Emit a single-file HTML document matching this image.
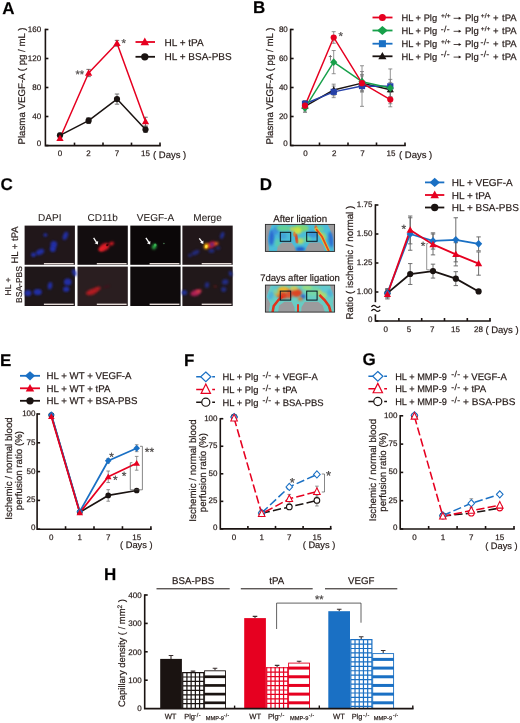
<!DOCTYPE html>
<html><head><meta charset="utf-8"><title>Figure</title>
<style>
html,body{margin:0;padding:0;background:#fff;}
body{width:520px;height:723px;overflow:hidden;font-family:"Liberation Sans",sans-serif;}
svg{display:block;filter:blur(0.4px);font-family:"Liberation Sans",sans-serif;}
svg text{stroke:#231815;stroke-width:0.25px;stroke-opacity:0.75;}
</style></head><body>
<svg width="520" height="723" viewBox="0 0 520 723" text-rendering="geometricPrecision">
<rect width="520" height="723" fill="#fff"/>
<text x="2.2" y="13.8" font-size="17" text-anchor="start" font-weight="bold" fill="#000" >A</text>
<text x="253" y="12.7" font-size="17" text-anchor="start" font-weight="bold" fill="#000" >B</text>
<text x="0.6" y="189.9" font-size="17" text-anchor="start" font-weight="bold" fill="#000" >C</text>
<text x="259.8" y="189.8" font-size="17" text-anchor="start" font-weight="bold" fill="#000" >D</text>
<text x="0" y="365.8" font-size="17" text-anchor="start" font-weight="bold" fill="#000" >E</text>
<text x="184" y="365.5" font-size="17" text-anchor="start" font-weight="bold" fill="#000" >F</text>
<text x="362.5" y="364.7" font-size="17" text-anchor="start" font-weight="bold" fill="#000" >G</text>
<text x="104" y="580.1" font-size="17" text-anchor="start" font-weight="bold" fill="#000" >H</text>
<path d="M45.4,29.5V145.6H160" stroke="#1a1311" stroke-width="1.6" fill="none" stroke-linecap="square"/>
<path d="M45.4,29.5h3" stroke="#1a1311" stroke-width="1.6"/>
<path d="M45.4,58.5h3" stroke="#1a1311" stroke-width="1.6"/>
<path d="M45.4,87.5h3" stroke="#1a1311" stroke-width="1.6"/>
<path d="M45.4,116.5h3" stroke="#1a1311" stroke-width="1.6"/>
<path d="M45.4,145.5h3" stroke="#1a1311" stroke-width="1.6"/>
<path d="M74.5,145.6v-3" stroke="#1a1311" stroke-width="1.6"/>
<path d="M103,145.6v-3" stroke="#1a1311" stroke-width="1.6"/>
<path d="M131.5,145.6v-3" stroke="#1a1311" stroke-width="1.6"/>
<path d="M160,145.6v-3" stroke="#1a1311" stroke-width="1.6"/>
<text x="41.1" y="31.580000000000002" font-size="8.0" text-anchor="end" font-weight="normal" fill="#231815" >160</text>
<text x="41.1" y="60.580000000000005" font-size="8.0" text-anchor="end" font-weight="normal" fill="#231815" >120</text>
<text x="41.1" y="89.58" font-size="8.0" text-anchor="end" font-weight="normal" fill="#231815" >80</text>
<text x="41.1" y="118.58" font-size="8.0" text-anchor="end" font-weight="normal" fill="#231815" >40</text>
<text x="41.1" y="146.38" font-size="8.0" text-anchor="end" font-weight="normal" fill="#231815" >0</text>
<text x="60.0" y="156" font-size="8.0" text-anchor="middle" font-weight="normal" fill="#231815" >0</text>
<text x="88.6" y="156" font-size="8.0" text-anchor="middle" font-weight="normal" fill="#231815" >2</text>
<text x="117.0" y="156" font-size="8.0" text-anchor="middle" font-weight="normal" fill="#231815" >7</text>
<text x="145.5" y="156" font-size="8.0" text-anchor="middle" font-weight="normal" fill="#231815" >15</text>
<text x="153" y="157.5" font-size="9.5" text-anchor="start" font-weight="normal" fill="#231815" >( Days )</text>
<text x="24.6" y="86" font-size="9.7" text-anchor="middle" font-weight="normal" fill="#231815" transform="rotate(-90 24.6 86)" >Plasma VEGF-A ( pg / mL )</text>
<path d="M60.0,133.175V137.525M57.8,133.175H62.2M57.8,137.525H62.2" stroke="#606060" stroke-width="0.9" fill="none"/>
<path d="M88.6,117.7325V123.5325M86.39999999999999,117.7325H90.8M86.39999999999999,123.5325H90.8" stroke="#606060" stroke-width="0.9" fill="none"/>
<path d="M117.0,94.025V104.17500000000001M114.8,94.025H119.2M114.8,104.17500000000001H119.2" stroke="#606060" stroke-width="0.9" fill="none"/>
<path d="M145.5,126.65V132.45M143.3,126.65H147.7M143.3,132.45H147.7" stroke="#606060" stroke-width="0.9" fill="none"/>
<path d="M60.0,136.075V140.425M57.8,136.075H62.2M57.8,140.425H62.2" stroke="#606060" stroke-width="0.9" fill="none"/>
<path d="M88.6,69.375V76.625M86.39999999999999,69.375H90.8M86.39999999999999,76.625H90.8" stroke="#606060" stroke-width="0.9" fill="none"/>
<path d="M117.0,40.375V46.175M114.8,40.375H119.2M114.8,46.175H119.2" stroke="#606060" stroke-width="0.9" fill="none"/>
<path d="M145.5,117.225V125.925M143.3,117.225H147.7M143.3,125.925H147.7" stroke="#606060" stroke-width="0.9" fill="none"/>
<polyline points="60.0,135.35 88.6,120.63250000000001 117.0,99.1 145.5,129.55" fill="none" stroke="#1a1311" stroke-width="1.5" stroke-linejoin="round"/>
<polyline points="60.0,138.25 88.6,73.0 117.0,43.275000000000006 145.5,121.575" fill="none" stroke="#e60020" stroke-width="1.5" stroke-linejoin="round"/>
<circle cx="60.0" cy="135.35" r="3.10" fill="#1a1311"/>
<circle cx="88.6" cy="120.63250000000001" r="3.10" fill="#1a1311"/>
<circle cx="117.0" cy="99.1" r="3.10" fill="#1a1311"/>
<circle cx="145.5" cy="129.55" r="3.10" fill="#1a1311"/>
<polygon points="60.0,134.48 63.66,140.98 56.34,140.98" fill="#e60020"/>
<polygon points="88.6,69.23 92.26,75.73 84.94,75.73" fill="#e60020"/>
<polygon points="117.0,39.50 120.66,46.01 113.34,46.01" fill="#e60020"/>
<polygon points="145.5,117.80 149.16,124.31 141.84,124.31" fill="#e60020"/>
<text x="75.5" y="77.5" font-size="11" text-anchor="start" font-weight="normal" fill="#666" >**</text>
<text x="121.6" y="46.5" font-size="11.5" text-anchor="start" font-weight="normal" fill="#666" >*</text>
<path d="M135.5,42H155" stroke="#e60020" stroke-width="1.8"/>
<polygon points="144.8,37.61 149.06,45.18 140.54,45.18" fill="#e60020"/>
<text x="164.5" y="45.5" font-size="10" text-anchor="start" font-weight="normal" fill="#231815" >HL + tPA</text>
<path d="M135.5,56.8H155" stroke="#1a1311" stroke-width="1.8"/>
<circle cx="144.8" cy="56.8" r="3.67" fill="#1a1311"/>
<text x="164.5" y="60.3" font-size="10" text-anchor="start" font-weight="normal" fill="#231815" >HL + BSA-PBS</text>
<path d="M290.6,29.5V145.5H405" stroke="#1a1311" stroke-width="1.6" fill="none" stroke-linecap="square"/>
<path d="M290.6,29.5h3" stroke="#1a1311" stroke-width="1.6"/>
<path d="M290.6,58.5h3" stroke="#1a1311" stroke-width="1.6"/>
<path d="M290.6,87.5h3" stroke="#1a1311" stroke-width="1.6"/>
<path d="M290.6,116.5h3" stroke="#1a1311" stroke-width="1.6"/>
<path d="M290.6,145.5h3" stroke="#1a1311" stroke-width="1.6"/>
<path d="M319.5,145.5v-3" stroke="#1a1311" stroke-width="1.6"/>
<path d="M348,145.5v-3" stroke="#1a1311" stroke-width="1.6"/>
<path d="M376.5,145.5v-3" stroke="#1a1311" stroke-width="1.6"/>
<path d="M405,145.5v-3" stroke="#1a1311" stroke-width="1.6"/>
<text x="287.8" y="31.580000000000002" font-size="8.0" text-anchor="end" font-weight="normal" fill="#231815" >80</text>
<text x="287.8" y="60.580000000000005" font-size="8.0" text-anchor="end" font-weight="normal" fill="#231815" >60</text>
<text x="287.8" y="89.58" font-size="8.0" text-anchor="end" font-weight="normal" fill="#231815" >40</text>
<text x="287.8" y="118.58" font-size="8.0" text-anchor="end" font-weight="normal" fill="#231815" >20</text>
<text x="287.8" y="146.38" font-size="8.0" text-anchor="end" font-weight="normal" fill="#231815" >0</text>
<text x="305.6" y="156" font-size="8.0" text-anchor="middle" font-weight="normal" fill="#231815" >0</text>
<text x="334.3" y="156" font-size="8.0" text-anchor="middle" font-weight="normal" fill="#231815" >2</text>
<text x="362.6" y="156" font-size="8.0" text-anchor="middle" font-weight="normal" fill="#231815" >7</text>
<text x="390.90000000000003" y="156" font-size="8.0" text-anchor="middle" font-weight="normal" fill="#231815" >15</text>
<text x="399" y="157.5" font-size="9.5" text-anchor="start" font-weight="normal" fill="#231815" >( Days )</text>
<text x="272.6" y="86" font-size="9.7" text-anchor="middle" font-weight="normal" fill="#231815" transform="rotate(-90 272.6 86)" >Plasma VEGF-A ( pg / mL )</text>
<path d="M305.0,101.275V109.975M303.0,101.275H307.0M303.0,109.975H307.0" stroke="#777" stroke-width="0.8" fill="none"/>
<path d="M333.7,31.674999999999997V43.275000000000006M331.7,31.674999999999997H335.7M331.7,43.275000000000006H335.7" stroke="#777" stroke-width="0.8" fill="none"/>
<path d="M362.0,75.9V90.4M360.0,75.9H364.0M360.0,90.4H364.0" stroke="#777" stroke-width="0.8" fill="none"/>
<path d="M390.3,92.285V106.785M388.3,92.285H392.3M388.3,106.785H392.3" stroke="#777" stroke-width="0.8" fill="none"/>
<path d="M305.0,103.45V112.15M303.0,103.45H307.0M303.0,112.15H307.0" stroke="#777" stroke-width="0.8" fill="none"/>
<path d="M333.7,50.525000000000006V73.72500000000001M331.7,50.525000000000006H335.7M331.7,73.72500000000001H335.7" stroke="#777" stroke-width="0.8" fill="none"/>
<path d="M362.0,71.55V91.85M360.0,71.55H364.0M360.0,91.85H364.0" stroke="#777" stroke-width="0.8" fill="none"/>
<path d="M390.3,79.38V96.78M388.3,79.38H392.3M388.3,96.78H392.3" stroke="#777" stroke-width="0.8" fill="none"/>
<path d="M305.0,100.84V106.64M303.0,100.84H307.0M303.0,106.64H307.0" stroke="#777" stroke-width="0.8" fill="none"/>
<path d="M333.7,86.05000000000001V97.65M331.7,86.05000000000001H335.7M331.7,97.65H335.7" stroke="#777" stroke-width="0.8" fill="none"/>
<path d="M362.0,65.75V106.35M360.0,65.75H364.0M360.0,106.35H364.0" stroke="#777" stroke-width="0.8" fill="none"/>
<path d="M390.3,68.94000000000001V103.74000000000001M388.3,68.94000000000001H392.3M388.3,103.74000000000001H392.3" stroke="#777" stroke-width="0.8" fill="none"/>
<path d="M305.0,100.55000000000001V112.15M303.0,100.55000000000001H307.0M303.0,112.15H307.0" stroke="#777" stroke-width="0.8" fill="none"/>
<path d="M333.7,84.165V95.76500000000001M331.7,84.165H335.7M331.7,95.76500000000001H335.7" stroke="#777" stroke-width="0.8" fill="none"/>
<path d="M362.0,74.45V91.85M360.0,74.45H364.0M360.0,91.85H364.0" stroke="#777" stroke-width="0.8" fill="none"/>
<path d="M390.3,82.42500000000001V96.92500000000001M388.3,82.42500000000001H392.3M388.3,96.92500000000001H392.3" stroke="#777" stroke-width="0.8" fill="none"/>
<polyline points="305.0,106.35 333.7,89.965 362.0,83.15 390.3,89.67500000000001" fill="none" stroke="#1a1311" stroke-width="1.45" stroke-linejoin="round"/>
<polyline points="305.0,103.74000000000001 333.7,91.85 362.0,86.05000000000001 390.3,86.34" fill="none" stroke="#2540a8" stroke-width="1.45" stroke-linejoin="round"/>
<polyline points="305.0,107.80000000000001 333.7,62.125 362.0,81.7 390.3,88.08" fill="none" stroke="#17a04a" stroke-width="1.45" stroke-linejoin="round"/>
<polyline points="305.0,105.625 333.7,37.47500000000001 362.0,83.15 390.3,99.535" fill="none" stroke="#e60020" stroke-width="1.45" stroke-linejoin="round"/>
<polygon points="305.0,102.64 308.60,109.04 301.40,109.04" fill="#1a1311"/>
<polygon points="333.7,86.25 337.30,92.65 330.10,92.65" fill="#1a1311"/>
<polygon points="362.0,79.44 365.60,85.84 358.40,85.84" fill="#1a1311"/>
<polygon points="390.3,85.96 393.90,92.36 386.70,92.36" fill="#1a1311"/>
<rect x="301.90" y="100.64" width="6.20" height="6.20" fill="#2540a8"/>
<rect x="330.60" y="88.75" width="6.20" height="6.20" fill="#2540a8"/>
<rect x="358.90" y="82.95" width="6.20" height="6.20" fill="#2540a8"/>
<rect x="387.20" y="83.24" width="6.20" height="6.20" fill="#2540a8"/>
<polygon points="305.0,103.90 308.60,107.80000000000001 305.0,111.70 301.40,107.80000000000001" fill="#17a04a"/>
<polygon points="333.7,58.23 337.30,62.125 333.7,66.03 330.10,62.125" fill="#17a04a"/>
<polygon points="362.0,77.80 365.60,81.7 362.0,85.60 358.40,81.7" fill="#17a04a"/>
<polygon points="390.3,84.18 393.90,88.08 390.3,91.98 386.70,88.08" fill="#17a04a"/>
<circle cx="305.0" cy="105.625" r="3.10" fill="#e60020"/>
<circle cx="333.7" cy="37.47500000000001" r="3.10" fill="#e60020"/>
<circle cx="362.0" cy="83.15" r="3.10" fill="#e60020"/>
<circle cx="390.3" cy="99.535" r="3.10" fill="#e60020"/>
<text x="338.5" y="39.5" font-size="11.5" text-anchor="start" font-weight="normal" fill="#666" >*</text>
<text x="328.5" y="60" font-size="6.5" text-anchor="start" font-weight="normal" fill="#666" >†</text>
<path d="M372.5,17.5H392.5" stroke="#e60020" stroke-width="1.8"/>
<circle cx="382.4" cy="17.5" r="3.51" fill="#e60020"/>
<text x="401.5" y="20.9" font-size="9.3" text-anchor="start" font-weight="normal" fill="#231815" >HL + Plg</text>
<text x="441.1" y="18.099999999999998" font-size="6.6" text-anchor="start" font-weight="normal" fill="#231815" >+/+</text>
<path d="M453.6,18.299999999999997H460.2" stroke="#231815" stroke-width="0.8"/><path d="M461.3,18.299999999999997l-2.6,-1.5v3z" fill="#231815"/>
<text x="465" y="20.9" font-size="9.5" text-anchor="start" font-weight="normal" fill="#231815" >Plg</text>
<text x="480.8" y="18.099999999999998" font-size="6.6" text-anchor="start" font-weight="normal" fill="#231815" >+/+</text>
<text x="493" y="20.9" font-size="9.5" text-anchor="start" font-weight="normal" fill="#231815" word-spacing="0.8">+ tPA</text>
<path d="M372.5,30.5H392.5" stroke="#17a04a" stroke-width="1.8"/>
<polygon points="382.4,26.08 387.70,30.5 382.4,34.92 377.10,30.5" fill="#17a04a"/>
<text x="401.5" y="33.9" font-size="9.3" text-anchor="start" font-weight="normal" fill="#231815" >HL + Plg</text>
<text x="440.8" y="31.5" font-size="8.6" text-anchor="start" font-weight="normal" fill="#231815" letter-spacing="0.3">-/-</text>
<path d="M453.6,31.299999999999997H460.2" stroke="#231815" stroke-width="0.8"/><path d="M461.3,31.299999999999997l-2.6,-1.5v3z" fill="#231815"/>
<text x="465" y="33.9" font-size="9.5" text-anchor="start" font-weight="normal" fill="#231815" >Plg</text>
<text x="480.8" y="31.099999999999998" font-size="6.6" text-anchor="start" font-weight="normal" fill="#231815" >+/+</text>
<text x="493" y="33.9" font-size="9.5" text-anchor="start" font-weight="normal" fill="#231815" word-spacing="0.8">+ tPA</text>
<path d="M372.5,43.7H392.5" stroke="#1a70c4" stroke-width="1.8"/>
<rect x="378.89" y="40.19" width="7.03" height="7.03" fill="#1a70c4"/>
<text x="401.5" y="47.1" font-size="9.3" text-anchor="start" font-weight="normal" fill="#231815" >HL + Plg</text>
<text x="441.1" y="44.300000000000004" font-size="6.6" text-anchor="start" font-weight="normal" fill="#231815" >+/+</text>
<path d="M453.6,44.5H460.2" stroke="#231815" stroke-width="0.8"/><path d="M461.3,44.5l-2.6,-1.5v3z" fill="#231815"/>
<text x="465" y="47.1" font-size="9.5" text-anchor="start" font-weight="normal" fill="#231815" >Plg</text>
<text x="480.5" y="44.7" font-size="8.6" text-anchor="start" font-weight="normal" fill="#231815" letter-spacing="0.3">-/-</text>
<text x="493" y="47.1" font-size="9.5" text-anchor="start" font-weight="normal" fill="#231815" word-spacing="0.8">+ tPA</text>
<path d="M372.5,56.3H392.5" stroke="#1a1311" stroke-width="1.8"/>
<polygon points="382.4,52.09 386.48,59.35 378.32,59.35" fill="#1a1311"/>
<text x="401.5" y="59.699999999999996" font-size="9.3" text-anchor="start" font-weight="normal" fill="#231815" >HL + Plg</text>
<text x="440.8" y="57.3" font-size="8.6" text-anchor="start" font-weight="normal" fill="#231815" letter-spacing="0.3">-/-</text>
<path d="M453.6,57.099999999999994H460.2" stroke="#231815" stroke-width="0.8"/><path d="M461.3,57.099999999999994l-2.6,-1.5v3z" fill="#231815"/>
<text x="465" y="59.699999999999996" font-size="9.5" text-anchor="start" font-weight="normal" fill="#231815" >Plg</text>
<text x="480.5" y="57.3" font-size="8.6" text-anchor="start" font-weight="normal" fill="#231815" letter-spacing="0.3">-/-</text>
<text x="493" y="59.699999999999996" font-size="9.5" text-anchor="start" font-weight="normal" fill="#231815" word-spacing="0.8">+ tPA</text>
<defs>
<filter id="b1" x="-50%" y="-50%" width="200%" height="200%"><feGaussianBlur stdDeviation="0.9"/></filter>
<filter id="b2" x="-50%" y="-50%" width="200%" height="200%"><feGaussianBlur stdDeviation="1.6"/></filter>
<filter id="b05" x="-50%" y="-50%" width="200%" height="200%"><feGaussianBlur stdDeviation="0.5"/></filter>
</defs>
<rect x="24.6" y="225.6" width="50.3" height="39.2" fill="#21171a"/>
<rect x="77.5" y="225.6" width="50.3" height="39.2" fill="#130d0f"/>
<rect x="130.3" y="225.6" width="50.3" height="39.2" fill="#0b0708"/>
<rect x="182.4" y="225.6" width="50.3" height="39.2" fill="#21171a"/>
<rect x="24.6" y="266.6" width="50.3" height="39.4" fill="#1f1719"/>
<rect x="77.5" y="266.6" width="50.3" height="39.4" fill="#2a1e20"/>
<rect x="130.3" y="266.6" width="50.3" height="39.4" fill="#0f0b0c"/>
<rect x="182.4" y="266.6" width="50.3" height="39.4" fill="#21181a"/>
<ellipse cx="45.4" cy="235" rx="2" ry="1.8" fill="#2430b4" opacity="0.9" transform="rotate(0 45.4 235)" filter="url(#b1)"/>
<ellipse cx="65.4" cy="235.8" rx="2.3" ry="4.4" fill="#2430b4" opacity="0.9" transform="rotate(22 65.4 235.8)" filter="url(#b1)"/>
<ellipse cx="53.8" cy="244.5" rx="3.3" ry="3.6" fill="#2430b4" opacity="0.9" transform="rotate(10 53.8 244.5)" filter="url(#b1)"/>
<ellipse cx="52.8" cy="249" rx="3" ry="3" fill="#2430b4" opacity="0.9" transform="rotate(0 52.8 249)" filter="url(#b1)"/>
<ellipse cx="40" cy="252" rx="4.4" ry="2.8" fill="#2430b4" opacity="0.9" transform="rotate(-25 40 252)" filter="url(#b1)"/>
<ellipse cx="33.5" cy="254.8" rx="2.5" ry="2.2" fill="#2430b4" opacity="0.9" transform="rotate(0 33.5 254.8)" filter="url(#b1)"/>
<ellipse cx="74.4" cy="272.7" rx="2" ry="3.6" fill="#2430b4" opacity="0.9" transform="rotate(-20 74.4 272.7)" filter="url(#b1)"/>
<ellipse cx="67.7" cy="282" rx="3.8" ry="3.5" fill="#2430b4" opacity="0.9" transform="rotate(0 67.7 282)" filter="url(#b1)"/>
<ellipse cx="66.2" cy="289.2" rx="3.1" ry="2.6" fill="#2430b4" opacity="0.9" transform="rotate(0 66.2 289.2)" filter="url(#b1)"/>
<ellipse cx="50" cy="285.8" rx="2.2" ry="3.8" fill="#2430b4" opacity="0.9" transform="rotate(10 50 285.8)" filter="url(#b1)"/>
<ellipse cx="37.7" cy="292" rx="4.2" ry="3.1" fill="#2430b4" opacity="0.9" transform="rotate(0 37.7 292)" filter="url(#b1)"/>
<ellipse cx="28" cy="293" rx="3.5" ry="3.1" fill="#2430b4" opacity="0.9" transform="rotate(0 28 293)" filter="url(#b1)"/>
<ellipse cx="104.5" cy="247" rx="5.2" ry="3.4" fill="#de1c26" opacity="1" transform="rotate(-28 104.5 247)" filter="url(#b1)"/>
<ellipse cx="111.5" cy="243.6" rx="2.6" ry="1.9" fill="#cc1822" opacity="1" transform="rotate(-20 111.5 243.6)" filter="url(#b1)"/>
<ellipse cx="101" cy="249.5" rx="2.6" ry="2" fill="#e82028" opacity="1" transform="rotate(0 101 249.5)" filter="url(#b1)"/>
<ellipse cx="107.3" cy="245" rx="1.5" ry="1.1" fill="#2a0606" transform="rotate(-40 107.3 245)" filter="url(#b05)"/>
<ellipse cx="92" cy="291.8" rx="6.4" ry="2.9" fill="#b81c24" opacity="0.95" transform="rotate(-20 92 291.8)" filter="url(#b1)"/>
<ellipse cx="97.5" cy="288.8" rx="3.4" ry="2" fill="#b01a22" opacity="0.9" transform="rotate(-20 97.5 288.8)" filter="url(#b1)"/>
<ellipse cx="106.5" cy="286.6" rx="3.5" ry="0.9" fill="#601014" opacity="0.6" transform="rotate(-15 106.5 286.6)" filter="url(#b1)"/>
<ellipse cx="154.2" cy="246.6" rx="2.1" ry="2.9" fill="#2aa846" opacity="1" transform="rotate(25 154.2 246.6)" filter="url(#b1)"/>
<ellipse cx="155.2" cy="245" rx="1.3" ry="1.5" fill="#38b050" opacity="1" transform="rotate(0 155.2 245)" filter="url(#b05)"/>
<ellipse cx="163.9" cy="243.5" rx="0.8" ry="0.8" fill="#4a7a54" opacity="1" transform="rotate(0 163.9 243.5)" filter="url(#b05)"/>
<ellipse cx="222.2" cy="235.4" rx="1.8" ry="3.6" fill="#2230a0" opacity="0.9" transform="rotate(20 222.2 235.4)" filter="url(#b1)"/>
<ellipse cx="211.5" cy="250.7" rx="3" ry="2.2" fill="#2230a0" opacity="0.7" transform="rotate(0 211.5 250.7)" filter="url(#b1)"/>
<ellipse cx="195.5" cy="252.6" rx="4.2" ry="2.2" fill="#2230a0" opacity="0.75" transform="rotate(-25 195.5 252.6)" filter="url(#b1)"/>
<ellipse cx="190" cy="255.4" rx="2" ry="1.8" fill="#2230a0" opacity="0.6" transform="rotate(0 190 255.4)" filter="url(#b1)"/>
<ellipse cx="218" cy="248" rx="2.5" ry="2" fill="#2230a0" opacity="0.5" transform="rotate(0 218 248)" filter="url(#b1)"/>
<ellipse cx="211.5" cy="244.8" rx="4.6" ry="3" fill="#c81838" opacity="1" transform="rotate(-25 211.5 244.8)" filter="url(#b1)"/>
<ellipse cx="216.2" cy="243.6" rx="2.4" ry="1.6" fill="#e86020" opacity="1" transform="rotate(-15 216.2 243.6)" filter="url(#b1)"/>
<ellipse cx="212" cy="244.6" rx="1.6" ry="1.8" fill="#3030a0" opacity="0.8" transform="rotate(0 212 244.6)" filter="url(#b1)"/>
<ellipse cx="206.3" cy="246.2" rx="2.3" ry="3" fill="#ffa800" opacity="1" transform="rotate(15 206.3 246.2)" filter="url(#b1)"/>
<ellipse cx="206.3" cy="246.6" rx="1.3" ry="1.8" fill="#ffe040" opacity="1" transform="rotate(15 206.3 246.6)" filter="url(#b05)"/>
<ellipse cx="230.5" cy="273.5" rx="1.7" ry="2.8" fill="#2230a0" opacity="0.85" transform="rotate(-15 230.5 273.5)" filter="url(#b1)"/>
<ellipse cx="225.2" cy="281.9" rx="3.3" ry="2.6" fill="#2230a0" opacity="0.8" transform="rotate(-15 225.2 281.9)" filter="url(#b1)"/>
<ellipse cx="223.7" cy="289.5" rx="2.6" ry="2.4" fill="#2230a0" opacity="0.75" transform="rotate(0 223.7 289.5)" filter="url(#b1)"/>
<ellipse cx="207" cy="285" rx="2.2" ry="3" fill="#2230a0" opacity="0.75" transform="rotate(10 207 285)" filter="url(#b1)"/>
<ellipse cx="184.3" cy="292.5" rx="2.8" ry="2.6" fill="#2230a0" opacity="0.9" transform="rotate(0 184.3 292.5)" filter="url(#b1)"/>
<ellipse cx="195.5" cy="293" rx="5.2" ry="2.9" fill="#b42058" opacity="0.95" transform="rotate(-15 195.5 293)" filter="url(#b1)"/>
<ellipse cx="198.5" cy="291.2" rx="3" ry="1.7" fill="#d03a4c" opacity="1" transform="rotate(-15 198.5 291.2)" filter="url(#b1)"/>
<ellipse cx="215.3" cy="286.4" rx="1.6" ry="1.2" fill="#702018" opacity="0.7" transform="rotate(0 215.3 286.4)" filter="url(#b1)"/>
<path d="M93.6,237.8L96.7,242.7" stroke="#fff" stroke-width="1.3"/>
<polygon points="97.9,244.6 94.6,243.2 98.1,241.0" fill="#fff"/>
<path d="M145.9,237.8L149.0,242.7" stroke="#fff" stroke-width="1.3"/>
<polygon points="150.2,244.6 146.9,243.2 150.4,241.0" fill="#fff"/>
<path d="M199.3,238.3L202.1,242.2" stroke="#fff" stroke-width="1.3"/>
<polygon points="203.4,244.0 200.0,242.8 203.4,240.4" fill="#fff"/>
<path d="M43.900000000000006,263.7H73.7" stroke="#e4dad6" stroke-width="1.4"/>
<path d="M96.8,263.7H126.6" stroke="#e4dad6" stroke-width="1.4"/>
<path d="M149.60000000000002,263.7H179.40000000000003" stroke="#e4dad6" stroke-width="1.4"/>
<path d="M201.70000000000002,263.7H231.5" stroke="#e4dad6" stroke-width="1.4"/>
<path d="M43.900000000000006,304.3H73.7" stroke="#e4dad6" stroke-width="1.4"/>
<path d="M96.8,304.3H126.6" stroke="#e4dad6" stroke-width="1.4"/>
<path d="M149.60000000000002,304.3H179.40000000000003" stroke="#e4dad6" stroke-width="1.4"/>
<path d="M201.70000000000002,304.3H231.5" stroke="#e4dad6" stroke-width="1.4"/>
<text x="49.75" y="221" font-size="10" text-anchor="middle" font-weight="normal" fill="#2a2422" style="stroke-width:0.1px">DAPI</text>
<text x="102.65" y="221" font-size="10" text-anchor="middle" font-weight="normal" fill="#2a2422" style="stroke-width:0.1px">CD11b</text>
<text x="155.45000000000002" y="221" font-size="10" text-anchor="middle" font-weight="normal" fill="#2a2422" style="stroke-width:0.1px">VEGF-A</text>
<text x="207.55" y="221" font-size="10" text-anchor="middle" font-weight="normal" fill="#2a2422" style="stroke-width:0.1px">Merge</text>
<text x="18" y="245" font-size="9.5" text-anchor="middle" font-weight="normal" fill="#231815" transform="rotate(-90 18 245)" >HL + tPA</text>
<text x="11.3" y="286.5" font-size="8.5" text-anchor="middle" font-weight="normal" fill="#231815" transform="rotate(-90 11.3 286.5)" >HL +</text>
<text x="22.2" y="284.5" font-size="8.5" text-anchor="middle" font-weight="normal" fill="#231815" transform="rotate(-90 22.2 284.5)" >BSA-PBS</text>
<text x="300.2" y="222.3" font-size="9.7" text-anchor="middle" font-weight="normal" fill="#231815" >After ligation</text>
<text x="300" y="280.7" font-size="9.5" text-anchor="middle" font-weight="normal" fill="#231815" >7days after ligation</text>
<clipPath id="cp1"><rect x="265.4" y="224.4" width="69.2" height="27"/></clipPath>
<rect x="265.4" y="224.4" width="69.2" height="27" fill="#9b9b9d"/>
<g clip-path="url(#cp1)">
<path d="M273.2,223.8 L270.2,230.8 L268.8,238.5 L269.9,253.3 L275.8,253.3 L277.1,245.5 L282.7,241.5 L292.2,242.0 L295.1,246.3 L296.5,250.1 L304.8,250.1 L306.2,246.3 L309.0,242.0 L319.4,241.5 L323.9,244.9 L325.9,253.3 L333.2,253.3 L332.0,237.7 L329.4,229.9 L326.3,223.8Z" fill="#4cbcd8" stroke="#4cbcd8" stroke-width="1.5" stroke-linejoin="round" filter="url(#b05)"/>
<ellipse cx="271.6" cy="237.7" rx="2.6" ry="8" fill="#2a66d0" opacity="0.95" transform="rotate(4 271.6 237.7)" filter="url(#b1)"/>
<ellipse cx="275.8" cy="230.8" rx="3" ry="4" fill="#3a86dc" opacity="0.8" transform="rotate(20 275.8 230.8)" filter="url(#b1)"/>
<ellipse cx="300.3" cy="249.1" rx="4.5" ry="2" fill="#2252c8" opacity="0.95" transform="rotate(0 300.3 249.1)" filter="url(#b1)"/>
<ellipse cx="313.0" cy="234.2" rx="5" ry="3.5" fill="#3078d6" opacity="0.55" transform="rotate(0 313.0 234.2)" filter="url(#b1)"/>
<ellipse cx="330.8" cy="239.4" rx="2.4" ry="8" fill="#2a66d0" opacity="0.9" transform="rotate(-6 330.8 239.4)" filter="url(#b1)"/>
<ellipse cx="282.7" cy="236.0" rx="4" ry="3" fill="#3a8ad8" opacity="0.5" transform="rotate(0 282.7 236.0)" filter="url(#b1)"/>
<ellipse cx="283.5" cy="228.2" rx="7" ry="3" fill="#66d48c" opacity="0.9" transform="rotate(0 283.5 228.2)" filter="url(#b1)"/>
<ellipse cx="300.8" cy="228.2" rx="8" ry="3.5" fill="#86d868" opacity="0.9" transform="rotate(0 300.8 228.2)" filter="url(#b1)"/>
<ellipse cx="306.9" cy="239.4" rx="4" ry="3" fill="#68d6a0" opacity="0.8" transform="rotate(0 306.9 239.4)" filter="url(#b1)"/>
<ellipse cx="319.0" cy="229.0" rx="5" ry="3" fill="#70d890" opacity="0.8" transform="rotate(0 319.0 229.0)" filter="url(#b1)"/>
<ellipse cx="277.5" cy="242.9" rx="2.5" ry="4" fill="#60d0a0" opacity="0.7" transform="rotate(0 277.5 242.9)" filter="url(#b1)"/>
<ellipse cx="297.4" cy="230.8" rx="4" ry="3.5" fill="#d6e23c" opacity="0.9" transform="rotate(0 297.4 230.8)" filter="url(#b1)"/>
<ellipse cx="300.3" cy="241.1" rx="3.5" ry="3" fill="#c8e048" opacity="0.8" transform="rotate(0 300.3 241.1)" filter="url(#b1)"/>
<ellipse cx="292.2" cy="229.0" rx="2.5" ry="2.5" fill="#e0d838" opacity="0.7" transform="rotate(0 292.2 229.0)" filter="url(#b1)"/>
<ellipse cx="323.3" cy="236.0" rx="2.5" ry="4" fill="#b8e050" opacity="0.7" transform="rotate(-30 323.3 236.0)" filter="url(#b1)"/>
<ellipse cx="296.5" cy="238.5" rx="1.3" ry="5" fill="#e2401c" opacity="0.95" transform="rotate(-8 296.5 238.5)" filter="url(#b05)"/>
<ellipse cx="294.4" cy="234.2" rx="1.2" ry="2.6" fill="#ea7a20" opacity="0.8" transform="rotate(0 294.4 234.2)" filter="url(#b05)"/>
<ellipse cx="315.9" cy="227.3" rx="1.5" ry="2" fill="#e86020" opacity="0.8" transform="rotate(0 315.9 227.3)" filter="url(#b05)"/>
<path d="M315.6,228.2 L321.6,236.0 L328.5,250.7" stroke="#f0c030" stroke-width="3.2" fill="none" filter="url(#b05)"/>
<path d="M316.1,229.0 L322.1,236.8 L329.0,251.5" stroke="#e0481c" stroke-width="1.7" fill="none" filter="url(#b05)"/>
</g>
<rect x="265.4" y="224.4" width="69.2" height="27" fill="none" stroke="#2a2a2a" stroke-width="0.9"/>
<rect x="280.3" y="232.3" width="10.4" height="9" fill="none" stroke="#0a1420" stroke-width="1"/>
<rect x="306.7" y="232.3" width="10.4" height="9" fill="none" stroke="#0a1420" stroke-width="1"/>
<clipPath id="cp2"><rect x="265.4" y="285.1" width="69.2" height="27"/></clipPath>
<rect x="265.4" y="285.1" width="69.2" height="27" fill="#9b9b9d"/>
<g clip-path="url(#cp2)">
<path d="M272.3,283.5 L267.5,296.5 L270.9,303.4 L269.2,313.8 L277.1,313.8 L278.4,305.2 L284.4,300.8 L292.2,301.3 L295.1,306.9 L295.8,313.8 L300.3,313.8 L300.8,306.9 L304.3,301.3 L318.1,300.8 L323.3,304.8 L326.3,313.8 L333.7,313.8 L332.0,303.4 L332.9,296.5 L328.5,283.5Z" fill="#68ccc4" stroke="#68ccc4" stroke-width="1.5" stroke-linejoin="round" filter="url(#b05)"/>
<ellipse cx="270.9" cy="295.6" rx="2.5" ry="4" fill="#4aa8e0" opacity="0.8" transform="rotate(20 270.9 295.6)" filter="url(#b1)"/>
<ellipse cx="329.7" cy="293.0" rx="2.5" ry="4" fill="#4aa8e0" opacity="0.8" transform="rotate(-20 329.7 293.0)" filter="url(#b1)"/>
<ellipse cx="275.8" cy="287.9" rx="3" ry="2" fill="#58b8e0" opacity="0.7" transform="rotate(0 275.8 287.9)" filter="url(#b1)"/>
<ellipse cx="313.0" cy="291.3" rx="8" ry="4.5" fill="#74d8a4" opacity="0.9" transform="rotate(0 313.0 291.3)" filter="url(#b1)"/>
<ellipse cx="322.5" cy="295.6" rx="4" ry="3" fill="#c8e050" opacity="0.7" transform="rotate(0 322.5 295.6)" filter="url(#b1)"/>
<ellipse cx="306.9" cy="287.5" rx="5" ry="2" fill="#a8e070" opacity="0.8" transform="rotate(0 306.9 287.5)" filter="url(#b1)"/>
<ellipse cx="324.2" cy="288.7" rx="4" ry="2.5" fill="#60c8d8" opacity="0.8" transform="rotate(0 324.2 288.7)" filter="url(#b1)"/>
<ellipse cx="283.5" cy="289.9" rx="6" ry="3.5" fill="#f0b428" opacity="0.95" transform="rotate(0 283.5 289.9)" filter="url(#b1)"/>
<ellipse cx="282.7" cy="295.6" rx="5.5" ry="3.5" fill="#e23a1c" opacity="0.95" transform="rotate(0 282.7 295.6)" filter="url(#b1)"/>
<ellipse cx="289.3" cy="293.9" rx="3" ry="4.5" fill="#e84a20" opacity="0.9" transform="rotate(0 289.3 293.9)" filter="url(#b1)"/>
<ellipse cx="277.5" cy="293.0" rx="3" ry="3" fill="#f0a028" opacity="0.8" transform="rotate(0 277.5 293.0)" filter="url(#b1)"/>
<ellipse cx="296.5" cy="293.0" rx="5.5" ry="4" fill="#e2401c" opacity="0.95" transform="rotate(0 296.5 293.0)" filter="url(#b1)"/>
<ellipse cx="293.9" cy="288.2" rx="4" ry="2" fill="#f0c838" opacity="0.8" transform="rotate(0 293.9 288.2)" filter="url(#b1)"/>
<ellipse cx="303.1" cy="296.5" rx="2.4" ry="2.2" fill="#2a60d0" opacity="0.95" transform="rotate(0 303.1 296.5)" filter="url(#b1)"/>
<ellipse cx="300.3" cy="299.1" rx="2.5" ry="2" fill="#e86a20" opacity="0.8" transform="rotate(0 300.3 299.1)" filter="url(#b1)"/>
<ellipse cx="275.8" cy="291.3" rx="2" ry="3" fill="#70d8b0" opacity="0.8" transform="rotate(0 275.8 291.3)" filter="url(#b1)"/>
<ellipse cx="319.9" cy="292.2" rx="2" ry="2" fill="#e8d040" opacity="0.7" transform="rotate(0 319.9 292.2)" filter="url(#b1)"/>
<path d="M272.3,313.8 L273.7,306.0 L278.4,300.0 L282.7,296.2" stroke="#e2301a" stroke-width="2.5" fill="none" filter="url(#b05)"/>
<path d="M331.1,313.8 L329.0,306.0 L324.6,300.0 L319.4,294.8" stroke="#e2301a" stroke-width="2.5" fill="none" filter="url(#b05)"/>
<path d="M298.1,313.8 L297.7,304.3" stroke="#e2301a" stroke-width="2.8" fill="none" filter="url(#b05)"/>
</g>
<rect x="265.4" y="285.1" width="69.2" height="27" fill="none" stroke="#2a2a2a" stroke-width="0.9"/>
<rect x="280.3" y="291.1" width="10.4" height="9" fill="none" stroke="#0a1420" stroke-width="1"/>
<rect x="306.7" y="291.1" width="10.4" height="9" fill="none" stroke="#0a1420" stroke-width="1"/>
<path d="M375.4,205V321H490" stroke="#1a1311" stroke-width="1.6" fill="none" stroke-linecap="square"/>
<path d="M375.4,205h3" stroke="#1a1311" stroke-width="1.6"/>
<path d="M375.4,234h3" stroke="#1a1311" stroke-width="1.6"/>
<path d="M375.4,263h3" stroke="#1a1311" stroke-width="1.6"/>
<path d="M375.4,292h3" stroke="#1a1311" stroke-width="1.6"/>
<path d="M375.4,321h3" stroke="#1a1311" stroke-width="1.6"/>
<path d="M398.9,321v-3" stroke="#1a1311" stroke-width="1.6"/>
<path d="M421.7,321v-3" stroke="#1a1311" stroke-width="1.6"/>
<path d="M444.5,321v-3" stroke="#1a1311" stroke-width="1.6"/>
<path d="M467.3,321v-3" stroke="#1a1311" stroke-width="1.6"/>
<path d="M490,321v-3" stroke="#1a1311" stroke-width="1.6"/>
<text x="372.4" y="207.07999999999998" font-size="8.0" text-anchor="end" font-weight="normal" fill="#231815" >1.75</text>
<text x="372.4" y="236.07999999999998" font-size="8.0" text-anchor="end" font-weight="normal" fill="#231815" >1.50</text>
<text x="372.4" y="265.08" font-size="8.0" text-anchor="end" font-weight="normal" fill="#231815" >1.25</text>
<text x="372.4" y="294.08" font-size="8.0" text-anchor="end" font-weight="normal" fill="#231815" >1.00</text>
<text x="372.4" y="321.88" font-size="8.0" text-anchor="end" font-weight="normal" fill="#231815" >0</text>
<text x="385.7" y="332" font-size="8.0" text-anchor="middle" font-weight="normal" fill="#231815" >0</text>
<text x="408.9" y="332" font-size="8.0" text-anchor="middle" font-weight="normal" fill="#231815" >5</text>
<text x="432.3" y="332" font-size="8.0" text-anchor="middle" font-weight="normal" fill="#231815" >7</text>
<text x="455.4" y="332" font-size="8.0" text-anchor="middle" font-weight="normal" fill="#231815" >15</text>
<text x="478.5" y="332" font-size="8.0" text-anchor="middle" font-weight="normal" fill="#231815" >28</text>
<rect x="371" y="302.2" width="9.5" height="12.2" fill="#fff"/>
<path d="M371.4,307q2.2,-3 4.4,-0.6t4.4,-0.6M371.4,311q2.2,-3 4.4,-0.6t4.4,-0.6" stroke="#1a1311" stroke-width="1.2" fill="none"/>
<text x="485.4" y="332.5" font-size="9.5" text-anchor="start" font-weight="normal" fill="#231815" >( Days )</text>
<text x="353.2" y="262.6" font-size="9.8" text-anchor="middle" font-weight="normal" fill="#231815" transform="rotate(-90 353.2 262.6)" >Ratio ( ischemic / normal )</text>
<path d="M387.4,289.68V296.64M385.2,289.68H389.59999999999997M385.2,296.64H389.59999999999997" stroke="#606060" stroke-width="0.9" fill="none"/>
<path d="M410.2,263.58V284.46M408.0,263.58H412.4M408.0,284.46H412.4" stroke="#606060" stroke-width="0.9" fill="none"/>
<path d="M433.0,264.16V278.08000000000004M430.8,264.16H435.2M430.8,278.08000000000004H435.2" stroke="#606060" stroke-width="0.9" fill="none"/>
<path d="M455.8,271.7V285.62M453.6,271.7H458.0M453.6,285.62H458.0" stroke="#606060" stroke-width="0.9" fill="none"/>
<path d="M387.4,288.52V297.8M385.2,288.52H389.59999999999997M385.2,297.8H389.59999999999997" stroke="#606060" stroke-width="0.9" fill="none"/>
<path d="M410.2,217.76V250.24M408.0,217.76H412.4M408.0,250.24H412.4" stroke="#606060" stroke-width="0.9" fill="none"/>
<path d="M433.0,232.84V249.08M430.8,232.84H435.2M430.8,249.08H435.2" stroke="#606060" stroke-width="0.9" fill="none"/>
<path d="M455.8,217.76V261.84M453.6,217.76H458.0M453.6,261.84H458.0" stroke="#606060" stroke-width="0.9" fill="none"/>
<path d="M478.6,236.89999999999998V250.82M476.40000000000003,236.89999999999998H480.8M476.40000000000003,250.82H480.8" stroke="#606060" stroke-width="0.9" fill="none"/>
<path d="M387.4,289.68V298.96M385.2,289.68H389.59999999999997M385.2,298.96H389.59999999999997" stroke="#606060" stroke-width="0.9" fill="none"/>
<path d="M410.2,216.02000000000004V243.86M408.0,216.02000000000004H412.4M408.0,243.86H412.4" stroke="#606060" stroke-width="0.9" fill="none"/>
<path d="M433.0,234.0V254.88000000000002M430.8,234.0H435.2M430.8,254.88000000000002H435.2" stroke="#606060" stroke-width="0.9" fill="none"/>
<path d="M455.8,242.7V265.90000000000003M453.6,242.7H458.0M453.6,265.90000000000003H458.0" stroke="#606060" stroke-width="0.9" fill="none"/>
<path d="M478.6,251.97999999999996V275.18M476.40000000000003,251.97999999999996H480.8M476.40000000000003,275.18H480.8" stroke="#606060" stroke-width="0.9" fill="none"/>
<polyline points="387.4,293.16 410.2,274.02 433.0,271.12 455.8,278.66 478.6,291.42" fill="none" stroke="#1a1311" stroke-width="1.8" stroke-linejoin="round"/>
<polyline points="387.4,293.16 410.2,234.0 433.0,240.96 455.8,239.8 478.6,243.86" fill="none" stroke="#1a70c4" stroke-width="1.8" stroke-linejoin="round"/>
<polyline points="387.4,294.32 410.2,229.94 433.0,244.44 455.8,254.3 478.6,263.58" fill="none" stroke="#e60020" stroke-width="1.8" stroke-linejoin="round"/>
<circle cx="387.4" cy="293.16" r="3.10" fill="#1a1311"/>
<circle cx="410.2" cy="274.02" r="3.10" fill="#1a1311"/>
<circle cx="433.0" cy="271.12" r="3.10" fill="#1a1311"/>
<circle cx="455.8" cy="278.66" r="3.10" fill="#1a1311"/>
<circle cx="478.6" cy="291.42" r="3.10" fill="#1a1311"/>
<polygon points="387.4,289.26 391.00,293.16 387.4,297.06 383.80,293.16" fill="#1a70c4"/>
<polygon points="410.2,230.10 413.80,234.0 410.2,237.90 406.60,234.0" fill="#1a70c4"/>
<polygon points="433.0,237.06 436.60,240.96 433.0,244.86 429.40,240.96" fill="#1a70c4"/>
<polygon points="455.8,235.90 459.40,239.8 455.8,243.70 452.20,239.8" fill="#1a70c4"/>
<polygon points="478.6,239.96 482.20,243.86 478.6,247.76 475.00,243.86" fill="#1a70c4"/>
<polygon points="387.4,290.61 391.00,297.01 383.80,297.01" fill="#e60020"/>
<polygon points="410.2,226.23 413.80,232.63 406.60,232.63" fill="#e60020"/>
<polygon points="433.0,240.73 436.60,247.13 429.40,247.13" fill="#e60020"/>
<polygon points="455.8,250.59 459.40,256.99 452.20,256.99" fill="#e60020"/>
<polygon points="478.6,259.87 482.20,266.27 475.00,266.27" fill="#e60020"/>
<text x="401.5" y="232.5" font-size="12" text-anchor="start" font-weight="normal" fill="#555" >*</text>
<text x="420.8" y="250.3" font-size="12" text-anchor="start" font-weight="normal" fill="#555" >*</text>
<path d="M428.2,243.6H426.7V269.8H429.8" stroke="#666" stroke-width="0.7" fill="none"/>
<path d="M425,182.4H444.3" stroke="#1a70c4" stroke-width="1.8"/>
<polygon points="434.7,177.78 439.81,182.4 434.7,187.02 429.59,182.4" fill="#1a70c4"/>
<text x="451.7" y="185.9" font-size="10" text-anchor="start" font-weight="normal" fill="#231815" >HL + VEGF-A</text>
<path d="M425,195H444.3" stroke="#e60020" stroke-width="1.8"/>
<polygon points="434.7,190.61 438.96,198.18 430.44,198.18" fill="#e60020"/>
<text x="451.7" y="198.5" font-size="10" text-anchor="start" font-weight="normal" fill="#231815" >HL + tPA</text>
<path d="M425,207.5H444.3" stroke="#1a1311" stroke-width="1.8"/>
<circle cx="434.7" cy="207.5" r="3.67" fill="#1a1311"/>
<text x="451.7" y="211.0" font-size="10" text-anchor="start" font-weight="normal" fill="#231815" >HL + BSA-PBS</text>
<path d="M37.1,414.0V529.2H150.9" stroke="#1a1311" stroke-width="1.6" fill="none" stroke-linecap="square"/>
<path d="M37.1,414.0h3" stroke="#1a1311" stroke-width="1.6"/>
<path d="M37.1,442.8h3" stroke="#1a1311" stroke-width="1.6"/>
<path d="M37.1,471.6h3" stroke="#1a1311" stroke-width="1.6"/>
<path d="M37.1,500.40000000000003h3" stroke="#1a1311" stroke-width="1.6"/>
<path d="M37.1,529.2h3" stroke="#1a1311" stroke-width="1.6"/>
<path d="M65.55,529.2v-3" stroke="#1a1311" stroke-width="1.6"/>
<path d="M94.0,529.2v-3" stroke="#1a1311" stroke-width="1.6"/>
<path d="M122.44999999999999,529.2v-3" stroke="#1a1311" stroke-width="1.6"/>
<path d="M150.9,529.2v-3" stroke="#1a1311" stroke-width="1.6"/>
<text x="35.5" y="416.08" font-size="8.0" text-anchor="end" font-weight="normal" fill="#231815" >100</text>
<text x="35.5" y="444.88" font-size="8.0" text-anchor="end" font-weight="normal" fill="#231815" >75</text>
<text x="35.5" y="473.68" font-size="8.0" text-anchor="end" font-weight="normal" fill="#231815" >50</text>
<text x="35.5" y="502.48" font-size="8.0" text-anchor="end" font-weight="normal" fill="#231815" >25</text>
<text x="35.5" y="530.08" font-size="8.0" text-anchor="end" font-weight="normal" fill="#231815" >0</text>
<text x="51.325" y="540" font-size="8.0" text-anchor="middle" font-weight="normal" fill="#231815" >0</text>
<text x="79.775" y="540" font-size="8.0" text-anchor="middle" font-weight="normal" fill="#231815" >1</text>
<text x="108.225" y="540" font-size="8.0" text-anchor="middle" font-weight="normal" fill="#231815" >7</text>
<text x="136.675" y="540" font-size="8.0" text-anchor="middle" font-weight="normal" fill="#231815" >15</text>
<text x="136.3" y="548.3" font-size="9.3" text-anchor="middle" font-weight="normal" fill="#231815" >( Days )</text>
<text x="11.6" y="468.5" font-size="9.7" text-anchor="middle" font-weight="normal" fill="#231815" transform="rotate(-90 11.6 468.5)" >Ischemic / normal blood</text>
<text x="22.1" y="470.6" font-size="9.7" text-anchor="middle" font-weight="normal" fill="#231815" transform="rotate(-90 22.1 470.6)" >perfusion ratio (%)</text>
<path d="M108.225,489.68640000000005V501.20640000000003M106.425,489.68640000000005H110.02499999999999M106.425,501.20640000000003H110.02499999999999" stroke="#777" stroke-width="0.8" fill="none"/>
<path d="M108.225,458.46720000000005V463.0752M106.425,458.46720000000005H110.02499999999999M106.425,463.0752H110.02499999999999" stroke="#777" stroke-width="0.8" fill="none"/>
<path d="M136.675,444.7584V451.67040000000003M134.875,444.7584H138.47500000000002M134.875,451.67040000000003H138.47500000000002" stroke="#777" stroke-width="0.8" fill="none"/>
<path d="M108.225,471.024V482.54400000000004M106.425,471.024H110.02499999999999M106.425,482.54400000000004H110.02499999999999" stroke="#777" stroke-width="0.8" fill="none"/>
<path d="M136.675,456.3936V470.2176M134.875,456.3936H138.47500000000002M134.875,470.2176H138.47500000000002" stroke="#777" stroke-width="0.8" fill="none"/>
<polyline points="51.325,415.152 79.775,512.1504 108.225,495.44640000000004 136.675,490.49280000000005" fill="none" stroke="#1a1311" stroke-width="1.75" stroke-linejoin="round"/>
<polyline points="51.325,414.8064 79.775,511.5744 108.225,460.7712 136.675,448.2144" fill="none" stroke="#1a70c4" stroke-width="1.75" stroke-linejoin="round"/>
<polyline points="51.325,416.5344 79.775,512.7264 108.225,476.784 136.675,463.3056" fill="none" stroke="#e60020" stroke-width="1.75" stroke-linejoin="round"/>
<circle cx="51.325" cy="415.152" r="2.84" fill="#1a1311"/>
<circle cx="79.775" cy="512.1504" r="2.84" fill="#1a1311"/>
<circle cx="108.225" cy="495.44640000000004" r="2.84" fill="#1a1311"/>
<circle cx="136.675" cy="490.49280000000005" r="2.84" fill="#1a1311"/>
<polygon points="51.325,411.23 54.62,414.8064 51.325,418.38 48.03,414.8064" fill="#1a70c4"/>
<polygon points="79.775,508.00 83.08,511.5744 79.775,515.15 76.48,511.5744" fill="#1a70c4"/>
<polygon points="108.225,457.20 111.52,460.7712 108.225,464.35 104.92,460.7712" fill="#1a70c4"/>
<polygon points="136.675,444.64 139.98,448.2144 136.675,451.79 133.38,448.2144" fill="#1a70c4"/>
<polygon points="51.325,413.13 54.62,419.00 48.03,419.00" fill="#e60020"/>
<polygon points="79.775,509.32 83.08,515.19 76.48,515.19" fill="#e60020"/>
<polygon points="108.225,473.38 111.52,479.25 104.92,479.25" fill="#e60020"/>
<polygon points="136.675,459.90 139.98,465.77 133.38,465.77" fill="#e60020"/>
<path d="M20,375.8H40" stroke="#1a70c4" stroke-width="1.8"/>
<polygon points="30,371.19 35.11,375.8 30,380.42 24.89,375.8" fill="#1a70c4"/>
<text x="46.5" y="379.3" font-size="9.7" text-anchor="start" font-weight="normal" fill="#231815" >HL + WT + VEGF-A</text>
<path d="M20,388.3H40" stroke="#e60020" stroke-width="1.8"/>
<polygon points="30,383.91 34.26,391.48 25.74,391.48" fill="#e60020"/>
<text x="46.5" y="391.8" font-size="9.7" text-anchor="start" font-weight="normal" fill="#231815" >HL + WT + tPA</text>
<path d="M20,400.8H40" stroke="#1a1311" stroke-width="1.8"/>
<circle cx="30" cy="400.8" r="3.67" fill="#1a1311"/>
<text x="46.5" y="404.3" font-size="9.7" text-anchor="start" font-weight="normal" fill="#231815" >HL + WT + BSA-PBS</text>
<text x="109.2" y="461.3" font-size="12" text-anchor="start" font-weight="normal" fill="#555" >*</text>
<text x="113" y="484.2" font-size="12" text-anchor="start" font-weight="normal" fill="#555" >*</text>
<text x="121.8" y="479.6" font-size="12" text-anchor="start" font-weight="normal" fill="#555" >*</text>
<text x="144.8" y="455.8" font-size="12" text-anchor="start" font-weight="normal" fill="#555" >**</text>
<path d="M132.4,462.7H130.3V489.8H142.4V446.3H140" stroke="#555" stroke-width="0.7" fill="none"/>
<path d="M220.3,418.7V528.9H330.70000000000005" stroke="#1a1311" stroke-width="1.6" fill="none" stroke-linecap="square"/>
<path d="M220.3,418.7h3" stroke="#1a1311" stroke-width="1.6"/>
<path d="M220.3,446.25h3" stroke="#1a1311" stroke-width="1.6"/>
<path d="M220.3,473.79999999999995h3" stroke="#1a1311" stroke-width="1.6"/>
<path d="M220.3,501.34999999999997h3" stroke="#1a1311" stroke-width="1.6"/>
<path d="M220.3,528.9h3" stroke="#1a1311" stroke-width="1.6"/>
<path d="M247.9,528.9v-3" stroke="#1a1311" stroke-width="1.6"/>
<path d="M275.5,528.9v-3" stroke="#1a1311" stroke-width="1.6"/>
<path d="M303.1,528.9v-3" stroke="#1a1311" stroke-width="1.6"/>
<path d="M330.70000000000005,528.9v-3" stroke="#1a1311" stroke-width="1.6"/>
<text x="217.5" y="420.78" font-size="8.0" text-anchor="end" font-weight="normal" fill="#231815" >100</text>
<text x="217.5" y="448.33" font-size="8.0" text-anchor="end" font-weight="normal" fill="#231815" >75</text>
<text x="217.5" y="475.87999999999994" font-size="8.0" text-anchor="end" font-weight="normal" fill="#231815" >50</text>
<text x="217.5" y="503.42999999999995" font-size="8.0" text-anchor="end" font-weight="normal" fill="#231815" >25</text>
<text x="217.5" y="529.78" font-size="8.0" text-anchor="end" font-weight="normal" fill="#231815" >0</text>
<text x="234.10000000000002" y="540.2" font-size="8.0" text-anchor="middle" font-weight="normal" fill="#231815" >0</text>
<text x="261.70000000000005" y="540.2" font-size="8.0" text-anchor="middle" font-weight="normal" fill="#231815" >1</text>
<text x="289.3" y="540.2" font-size="8.0" text-anchor="middle" font-weight="normal" fill="#231815" >7</text>
<text x="316.90000000000003" y="540.2" font-size="8.0" text-anchor="middle" font-weight="normal" fill="#231815" >15</text>
<text x="319" y="548" font-size="9.3" text-anchor="middle" font-weight="normal" fill="#231815" >( Days )</text>
<text x="196" y="470.5" font-size="9.7" text-anchor="middle" font-weight="normal" fill="#231815" transform="rotate(-90 196 470.5)" >Ischemic / normal blood</text>
<text x="205.6" y="472.6" font-size="9.7" text-anchor="middle" font-weight="normal" fill="#231815" transform="rotate(-90 205.6 472.6)" >perfusion ratio (%)</text>
<path d="M316.90000000000003,494.9584V505.97839999999997M315.1,494.9584H318.70000000000005M315.1,505.97839999999997H318.70000000000005" stroke="#777" stroke-width="0.8" fill="none"/>
<path d="M289.3,494.4074V503.22339999999997M287.5,494.4074H291.1M287.5,503.22339999999997H291.1" stroke="#777" stroke-width="0.8" fill="none"/>
<path d="M316.90000000000003,486.14239999999995V497.1624M315.1,486.14239999999995H318.70000000000005M315.1,497.1624H318.70000000000005" stroke="#777" stroke-width="0.8" fill="none"/>
<polyline points="261.70000000000005,513.2515999999999 289.3,506.9702 316.90000000000003,500.4684" fill="none" stroke="#1a1311" stroke-width="1.55" stroke-linejoin="round" stroke-dasharray="8.3 3.2"/>
<polyline points="261.70000000000005,512.9209999999999 289.3,486.9138 316.90000000000003,474.46119999999996" fill="none" stroke="#1a70c4" stroke-width="1.55" stroke-linejoin="round" stroke-dasharray="8.3 3.2"/>
<polyline points="234.10000000000002,418.149 261.70000000000005,513.6924 289.3,498.81539999999995 316.90000000000003,491.6524" fill="none" stroke="#e60020" stroke-width="1.55" stroke-linejoin="round" stroke-dasharray="8.3 3.2"/>
<circle cx="234.10000000000002" cy="417.04699999999997" r="2.84" fill="#fff" stroke="#1a1311" stroke-width="1.05"/>
<circle cx="261.70000000000005" cy="513.2515999999999" r="2.84" fill="#fff" stroke="#1a1311" stroke-width="1.05"/>
<circle cx="289.3" cy="506.9702" r="2.84" fill="#fff" stroke="#1a1311" stroke-width="1.05"/>
<circle cx="316.90000000000003" cy="500.4684" r="2.84" fill="#fff" stroke="#1a1311" stroke-width="1.05"/>
<polygon points="234.10000000000002,413.47 237.40,417.04699999999997 234.10000000000002,420.62 230.80,417.04699999999997" fill="#fff" stroke="#1a70c4" stroke-width="1.05"/>
<polygon points="261.70000000000005,509.35 265.00,512.9209999999999 261.70000000000005,516.50 258.40,512.9209999999999" fill="#fff" stroke="#1a70c4" stroke-width="1.05"/>
<polygon points="289.3,483.34 292.60,486.9138 289.3,490.49 286.00,486.9138" fill="#fff" stroke="#1a70c4" stroke-width="1.05"/>
<polygon points="316.90000000000003,470.89 320.20,474.46119999999996 316.90000000000003,478.04 313.60,474.46119999999996" fill="#fff" stroke="#1a70c4" stroke-width="1.05"/>
<polygon points="234.10000000000002,414.32 237.40,420.92 230.80,420.92" fill="#fff" stroke="#e60020" stroke-width="1.05"/>
<polygon points="261.70000000000005,509.86 265.00,516.46 258.40,516.46" fill="#fff" stroke="#e60020" stroke-width="1.05"/>
<polygon points="289.3,494.99 292.60,501.59 286.00,501.59" fill="#fff" stroke="#e60020" stroke-width="1.05"/>
<polygon points="316.90000000000003,487.82 320.20,494.42 313.60,494.42" fill="#fff" stroke="#e60020" stroke-width="1.05"/>
<path d="M196.2,376.8H205.8M212.2,376.8H215" stroke="#1a70c4" stroke-width="1.6"/>
<polygon points="205.8,371.99 210.91,376.8 205.8,381.61 200.69,376.8" fill="#fff" stroke="#1a70c4" stroke-width="1.2"/>
<text x="222.6" y="380.2" font-size="9.35" text-anchor="start" font-weight="normal" fill="#231815" >HL + Plg</text>
<text x="262.5" y="377.8" font-size="8.6" text-anchor="start" font-weight="normal" fill="#231815" letter-spacing="0.3">-/-</text>
<text x="274.5" y="380.2" font-size="9.45" text-anchor="start" font-weight="normal" fill="#231815" >+ VEGF-A</text>
<path d="M196.2,389.5H205.8M212.2,389.5H215" stroke="#e60020" stroke-width="1.6"/>
<polygon points="205.8,384.07 210.48,393.43 201.12,393.43" fill="#fff" stroke="#e60020" stroke-width="1.2"/>
<text x="222.6" y="392.9" font-size="9.35" text-anchor="start" font-weight="normal" fill="#231815" >HL + Plg</text>
<text x="262.5" y="390.5" font-size="8.6" text-anchor="start" font-weight="normal" fill="#231815" letter-spacing="0.3">-/-</text>
<text x="274.5" y="392.9" font-size="9.45" text-anchor="start" font-weight="normal" fill="#231815" >+ tPA</text>
<path d="M196.2,402.2H205.8M212.2,402.2H215" stroke="#1a1311" stroke-width="1.6"/>
<circle cx="205.8" cy="402.2" r="4.03" fill="#fff" stroke="#1a1311" stroke-width="1.2"/>
<text x="222.6" y="405.59999999999997" font-size="9.35" text-anchor="start" font-weight="normal" fill="#231815" >HL + Plg</text>
<text x="262.5" y="403.2" font-size="8.6" text-anchor="start" font-weight="normal" fill="#231815" letter-spacing="0.3">-/-</text>
<text x="274.5" y="405.59999999999997" font-size="9.45" text-anchor="start" font-weight="normal" fill="#231815" >+ BSA-PBS</text>
<text x="289.7" y="487.2" font-size="13" text-anchor="start" font-weight="normal" fill="#555" >*</text>
<text x="326" y="480.2" font-size="13" text-anchor="start" font-weight="normal" fill="#555" >*</text>
<path d="M321.8,474H324.5V492H321.8" stroke="#555" stroke-width="0.7" fill="none"/>
<path d="M400.2,415.8V529.0H514.0" stroke="#1a1311" stroke-width="1.6" fill="none" stroke-linecap="square"/>
<path d="M400.2,415.8h3" stroke="#1a1311" stroke-width="1.6"/>
<path d="M400.2,444.1h3" stroke="#1a1311" stroke-width="1.6"/>
<path d="M400.2,472.4h3" stroke="#1a1311" stroke-width="1.6"/>
<path d="M400.2,500.7h3" stroke="#1a1311" stroke-width="1.6"/>
<path d="M400.2,529.0h3" stroke="#1a1311" stroke-width="1.6"/>
<path d="M428.65,529.0v-3" stroke="#1a1311" stroke-width="1.6"/>
<path d="M457.09999999999997,529.0v-3" stroke="#1a1311" stroke-width="1.6"/>
<path d="M485.54999999999995,529.0v-3" stroke="#1a1311" stroke-width="1.6"/>
<path d="M514.0,529.0v-3" stroke="#1a1311" stroke-width="1.6"/>
<text x="397.4" y="417.88" font-size="8.0" text-anchor="end" font-weight="normal" fill="#231815" >100</text>
<text x="397.4" y="446.18" font-size="8.0" text-anchor="end" font-weight="normal" fill="#231815" >75</text>
<text x="397.4" y="474.47999999999996" font-size="8.0" text-anchor="end" font-weight="normal" fill="#231815" >50</text>
<text x="397.4" y="502.78" font-size="8.0" text-anchor="end" font-weight="normal" fill="#231815" >25</text>
<text x="397.4" y="529.88" font-size="8.0" text-anchor="end" font-weight="normal" fill="#231815" >0</text>
<text x="414.425" y="540.2" font-size="8.0" text-anchor="middle" font-weight="normal" fill="#231815" >0</text>
<text x="442.875" y="540.2" font-size="8.0" text-anchor="middle" font-weight="normal" fill="#231815" >1</text>
<text x="471.325" y="540.2" font-size="8.0" text-anchor="middle" font-weight="normal" fill="#231815" >7</text>
<text x="499.775" y="540.2" font-size="8.0" text-anchor="middle" font-weight="normal" fill="#231815" >15</text>
<text x="501.4" y="548.5" font-size="9.3" text-anchor="middle" font-weight="normal" fill="#231815" >( Days )</text>
<text x="375.6" y="470.0" font-size="9.7" text-anchor="middle" font-weight="normal" fill="#231815" transform="rotate(-90 375.6 470.0)" >Ischemic / normal blood</text>
<text x="385.6" y="472.1" font-size="9.7" text-anchor="middle" font-weight="normal" fill="#231815" transform="rotate(-90 385.6 472.1)" >perfusion ratio (%)</text>
<path d="M471.325,498.7756V507.8316M469.525,498.7756H473.125M469.525,507.8316H473.125" stroke="#777" stroke-width="0.8" fill="none"/>
<polyline points="442.875,515.982 471.325,513.152 499.775,508.058" fill="none" stroke="#1a1311" stroke-width="1.55" stroke-linejoin="round" stroke-dasharray="8.3 3.2"/>
<polyline points="442.875,515.416 471.325,503.3036 499.775,494.3608" fill="none" stroke="#1a70c4" stroke-width="1.55" stroke-linejoin="round" stroke-dasharray="8.3 3.2"/>
<polyline points="414.425,416.366 442.875,516.3216 471.325,510.5484 499.775,505.3412" fill="none" stroke="#e60020" stroke-width="1.55" stroke-linejoin="round" stroke-dasharray="8.3 3.2"/>
<circle cx="414.425" cy="415.8" r="2.84" fill="#fff" stroke="#1a1311" stroke-width="1.05"/>
<circle cx="442.875" cy="515.982" r="2.84" fill="#fff" stroke="#1a1311" stroke-width="1.05"/>
<circle cx="471.325" cy="513.152" r="2.84" fill="#fff" stroke="#e60020" stroke-width="1.05"/>
<circle cx="499.775" cy="508.058" r="2.84" fill="#fff" stroke="#e60020" stroke-width="1.05"/>
<polygon points="414.425,411.66 417.73,415.23400000000004 414.425,418.81 411.12,415.23400000000004" fill="#fff" stroke="#1a70c4" stroke-width="1.05"/>
<polygon points="442.875,511.84 446.18,515.416 442.875,518.99 439.57,515.416" fill="#fff" stroke="#1a70c4" stroke-width="1.05"/>
<polygon points="471.325,499.73 474.62,503.3036 471.325,506.88 468.02,503.3036" fill="#fff" stroke="#1a70c4" stroke-width="1.05"/>
<polygon points="499.775,490.79 503.07,494.3608 499.775,497.94 496.47,494.3608" fill="#fff" stroke="#1a70c4" stroke-width="1.05"/>
<polygon points="414.425,412.54 417.73,419.14 411.12,419.14" fill="#fff" stroke="#e60020" stroke-width="1.05"/>
<polygon points="442.875,512.49 446.18,519.09 439.57,519.09" fill="#fff" stroke="#e60020" stroke-width="1.05"/>
<polygon points="471.325,506.72 474.62,513.32 468.02,513.32" fill="#fff" stroke="#e60020" stroke-width="1.05"/>
<polygon points="499.775,501.51 503.07,508.11 496.47,508.11" fill="#fff" stroke="#e60020" stroke-width="1.05"/>
<path d="M368.4,376.3H377.8M384.2,376.3H387" stroke="#1a70c4" stroke-width="1.6"/>
<polygon points="377.8,371.49 382.91,376.3 377.8,381.11 372.69,376.3" fill="#fff" stroke="#1a70c4" stroke-width="1.2"/>
<text x="395.2" y="379.7" font-size="9.5" text-anchor="start" font-weight="normal" fill="#231815"  textLength="51.7" lengthAdjust="spacingAndGlyphs">HL + MMP-9</text>
<text x="451.3" y="377.3" font-size="8.6" text-anchor="start" font-weight="normal" fill="#231815" letter-spacing="0.3">-/-</text>
<text x="463.1" y="379.7" font-size="9.6" text-anchor="start" font-weight="normal" fill="#231815"  textLength="43.8" lengthAdjust="spacingAndGlyphs">+ VEGF-A</text>
<path d="M368.4,388.8H377.8M384.2,388.8H387" stroke="#e60020" stroke-width="1.6"/>
<polygon points="377.8,383.37 382.48,392.73 373.12,392.73" fill="#fff" stroke="#e60020" stroke-width="1.2"/>
<text x="395.2" y="392.2" font-size="9.5" text-anchor="start" font-weight="normal" fill="#231815"  textLength="51.7" lengthAdjust="spacingAndGlyphs">HL + MMP-9</text>
<text x="451.3" y="389.8" font-size="8.6" text-anchor="start" font-weight="normal" fill="#231815" letter-spacing="0.3">-/-</text>
<text x="463.1" y="392.2" font-size="9.6" text-anchor="start" font-weight="normal" fill="#231815"  textLength="23.1" lengthAdjust="spacingAndGlyphs">+ tPA</text>
<path d="M368.4,401.5H377.8M384.2,401.5H387" stroke="#1a1311" stroke-width="1.6"/>
<circle cx="377.8" cy="401.5" r="4.03" fill="#fff" stroke="#1a1311" stroke-width="1.2"/>
<text x="395.2" y="404.9" font-size="9.5" text-anchor="start" font-weight="normal" fill="#231815"  textLength="51.7" lengthAdjust="spacingAndGlyphs">HL + MMP-9</text>
<text x="451.3" y="402.5" font-size="8.6" text-anchor="start" font-weight="normal" fill="#231815" letter-spacing="0.3">-/-</text>
<text x="463.1" y="404.9" font-size="9.6" text-anchor="start" font-weight="normal" fill="#231815"  textLength="52.3" lengthAdjust="spacingAndGlyphs">+ BSA-PBS</text>
<text x="125.4" y="653" font-size="9.45" text-anchor="middle" font-weight="normal" fill="#231815" transform="rotate(-90 125.4 653)" >Capillary density ( / mm<tspan dy="-3" font-size="6.5">2</tspan><tspan dy="3"> )</tspan></text>
<text x="141.6" y="710.5" font-size="8.0" text-anchor="end" font-weight="normal" fill="#231815" >0</text>
<text x="141.6" y="683.1" font-size="8.0" text-anchor="end" font-weight="normal" fill="#231815" >100</text>
<text x="141.6" y="654.7" font-size="8.0" text-anchor="end" font-weight="normal" fill="#231815" >200</text>
<text x="141.6" y="626.3000000000001" font-size="8.0" text-anchor="end" font-weight="normal" fill="#231815" >300</text>
<text x="141.6" y="597.9" font-size="8.0" text-anchor="end" font-weight="normal" fill="#231815" >400</text>
<path d="M156.5,588.8H229.7" stroke="#1a1311" stroke-width="1"/>
<text x="193.1" y="583.8" font-size="9.7" text-anchor="middle" font-weight="normal" fill="#231815" >BSA-PBS</text>
<path d="M171.0,658.9V655.5M168.7,655.5H173.3" stroke="#3a3030" stroke-width="1.1" fill="none"/>
<rect x="160.2" y="658.9" width="21.7" height="49.7" fill="#1a1311"/>
<text x="170.6" y="719.4" font-size="7.6" text-anchor="middle" font-weight="normal" fill="#231815" >WT</text>
<path d="M193.0,672.0V671.1M190.7,671.1H195.3" stroke="#3a3030" stroke-width="1.1" fill="none"/>
<rect x="182.2" y="672.0" width="21.7" height="36.6" fill="#fff"/>
<path d="M182.70,672.0V708.6M186.92,672.0V708.6M191.14,672.0V708.6M195.36,672.0V708.6M199.58,672.0V708.6M203.80,672.0V708.6M182.2,672.56H203.9M182.2,677.01H203.9M182.2,681.46H203.9M182.2,685.91H203.9M182.2,690.36H203.9M182.2,694.81H203.9M182.2,699.26H203.9M182.2,703.71H203.9" stroke="#1a1311" stroke-width="1.2" fill="none"/>
<text x="184.3" y="719.4" font-size="7.4" text-anchor="start" font-weight="normal" fill="#231815" >Plg</text>
<text x="194.4" y="716.8" font-size="5.6" text-anchor="start" font-weight="normal" fill="#231815" letter-spacing="0.5">-/-</text>
<path d="M215.0,670.3V668.3M212.7,668.3H217.3" stroke="#3a3030" stroke-width="1.1" fill="none"/>
<rect x="204.6" y="670.8" width="20.9" height="37.8" fill="#fff" stroke="#1a1311" stroke-width="0.9"/>
<rect x="204.2" y="701.45" width="21.7" height="2.7" fill="#1a1311"/>
<rect x="204.2" y="692.77" width="21.7" height="2.7" fill="#1a1311"/>
<rect x="204.2" y="684.09" width="21.7" height="2.7" fill="#1a1311"/>
<rect x="204.2" y="675.41" width="21.7" height="2.7" fill="#1a1311"/>
<text x="205.7" y="719.6" font-size="5.7" text-anchor="start" font-weight="normal" fill="#231815" >MMP-9</text>
<text x="223.7" y="717.2" font-size="4.8" text-anchor="start" font-weight="normal" fill="#231815" letter-spacing="0.4">-/-</text>
<path d="M240.8,588.8H312.7" stroke="#1a1311" stroke-width="1"/>
<text x="276.75" y="583.8" font-size="9.7" text-anchor="middle" font-weight="normal" fill="#231815" >tPA</text>
<path d="M255.0,618.1V616.4M252.7,616.4H257.3" stroke="#3a3030" stroke-width="1.1" fill="none"/>
<rect x="244.2" y="618.1" width="21.7" height="90.5" fill="#e60020"/>
<text x="255.2" y="719.4" font-size="7.6" text-anchor="middle" font-weight="normal" fill="#231815" >WT</text>
<path d="M277.1,667.1V665.4M274.8,665.4H279.4" stroke="#3a3030" stroke-width="1.1" fill="none"/>
<rect x="266.2" y="667.1" width="21.7" height="41.5" fill="#fff"/>
<path d="M266.70,667.1V708.6M270.92,667.1V708.6M275.14,667.1V708.6M279.36,667.1V708.6M283.58,667.1V708.6M287.80,667.1V708.6M266.2,667.74H287.9M266.2,672.19H287.9M266.2,676.64H287.9M266.2,681.09H287.9M266.2,685.54H287.9M266.2,689.99H287.9M266.2,694.44H287.9M266.2,698.89H287.9M266.2,703.34H287.9" stroke="#e60020" stroke-width="1.2" fill="none"/>
<text x="267.9" y="719.4" font-size="7.4" text-anchor="start" font-weight="normal" fill="#231815" >Plg</text>
<text x="278.2" y="716.8" font-size="5.6" text-anchor="start" font-weight="normal" fill="#231815" letter-spacing="0.5">-/-</text>
<path d="M299.1,662.6V661.2M296.8,661.2H301.4" stroke="#3a3030" stroke-width="1.1" fill="none"/>
<rect x="288.6" y="663.1" width="20.9" height="45.5" fill="#fff" stroke="#e60020" stroke-width="0.9"/>
<rect x="288.2" y="701.30" width="21.7" height="3.0" fill="#e60020"/>
<rect x="288.2" y="692.62" width="21.7" height="3.0" fill="#e60020"/>
<rect x="288.2" y="683.94" width="21.7" height="3.0" fill="#e60020"/>
<rect x="288.2" y="675.26" width="21.7" height="3.0" fill="#e60020"/>
<rect x="288.2" y="666.58" width="21.7" height="3.0" fill="#e60020"/>
<text x="290" y="719.6" font-size="5.7" text-anchor="start" font-weight="normal" fill="#231815" >MMP-9</text>
<text x="308.8" y="717.2" font-size="4.8" text-anchor="start" font-weight="normal" fill="#231815" letter-spacing="0.4">-/-</text>
<path d="M325,588.8H397.3" stroke="#1a1311" stroke-width="1"/>
<text x="361.15" y="583.8" font-size="9.7" text-anchor="middle" font-weight="normal" fill="#231815" >VEGF</text>
<path d="M339.2,611.2V609.2M336.9,609.2H341.5" stroke="#3a3030" stroke-width="1.1" fill="none"/>
<rect x="328.3" y="611.2" width="21.7" height="97.4" fill="#1a70c4"/>
<text x="339" y="719.4" font-size="7.6" text-anchor="middle" font-weight="normal" fill="#231815" >WT</text>
<path d="M361.2,639.0V636.7M358.9,636.7H363.5" stroke="#3a3030" stroke-width="1.1" fill="none"/>
<rect x="350.3" y="639.0" width="21.7" height="69.6" fill="#fff"/>
<path d="M350.80,639.0V708.6M355.02,639.0V708.6M359.24,639.0V708.6M363.46,639.0V708.6M367.68,639.0V708.6M371.90,639.0V708.6M350.3,639.62H372.0M350.3,644.07H372.0M350.3,648.52H372.0M350.3,652.97H372.0M350.3,657.42H372.0M350.3,661.87H372.0M350.3,666.32H372.0M350.3,670.77H372.0M350.3,675.22H372.0M350.3,679.67H372.0M350.3,684.12H372.0M350.3,688.57H372.0M350.3,693.02H372.0M350.3,697.47H372.0M350.3,701.92H372.0M350.3,706.37H372.0" stroke="#1a70c4" stroke-width="1.2" fill="none"/>
<text x="351.7" y="719.4" font-size="7.4" text-anchor="start" font-weight="normal" fill="#231815" >Plg</text>
<text x="363.1" y="716.8" font-size="5.6" text-anchor="start" font-weight="normal" fill="#231815" letter-spacing="0.5">-/-</text>
<path d="M383.2,653.1V650.5M380.9,650.5H385.5" stroke="#3a3030" stroke-width="1.1" fill="none"/>
<rect x="372.7" y="653.6" width="20.9" height="55.0" fill="#fff" stroke="#1a70c4" stroke-width="0.9"/>
<rect x="372.3" y="701.30" width="21.7" height="3.0" fill="#1a70c4"/>
<rect x="372.3" y="692.62" width="21.7" height="3.0" fill="#1a70c4"/>
<rect x="372.3" y="683.94" width="21.7" height="3.0" fill="#1a70c4"/>
<rect x="372.3" y="675.26" width="21.7" height="3.0" fill="#1a70c4"/>
<rect x="372.3" y="666.58" width="21.7" height="3.0" fill="#1a70c4"/>
<rect x="372.3" y="657.90" width="21.7" height="3.0" fill="#1a70c4"/>
<text x="373.8" y="719.6" font-size="5.7" text-anchor="start" font-weight="normal" fill="#231815" >MMP-9</text>
<text x="392.9" y="717.2" font-size="4.8" text-anchor="start" font-weight="normal" fill="#231815" letter-spacing="0.4">-/-</text>
<path d="M144.7,595V708.6H412.8" stroke="#1a1311" stroke-width="1.6" fill="none" stroke-linecap="square"/>
<path d="M144.7,680.2h3" stroke="#1a1311" stroke-width="1.6"/>
<path d="M144.7,651.8h3" stroke="#1a1311" stroke-width="1.6"/>
<path d="M144.7,623.4h3" stroke="#1a1311" stroke-width="1.6"/>
<path d="M144.7,595.0h3" stroke="#1a1311" stroke-width="1.6"/>
<path d="M234.6,708.6v-3" stroke="#1a1311" stroke-width="1.4"/>
<path d="M319.3,708.6v-3" stroke="#1a1311" stroke-width="1.4"/>
<path d="M412.8,708.6v-3" stroke="#1a1311" stroke-width="1.4"/>
<path d="M276.6,629V603.1H361V622.7" stroke="#3a3a3a" stroke-width="0.8" fill="none"/>
<text x="319.3" y="602.5" font-size="11" text-anchor="middle" font-weight="normal" fill="#555" >**</text>
</svg>
</body></html>
